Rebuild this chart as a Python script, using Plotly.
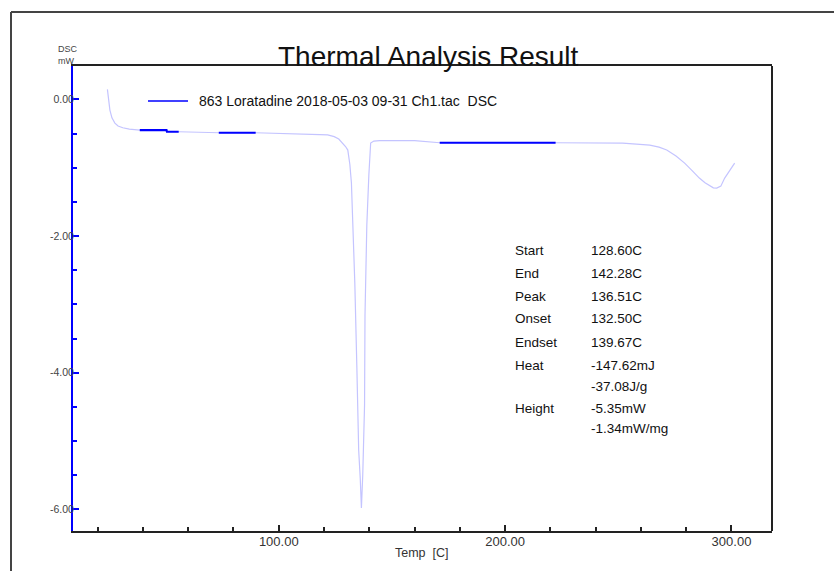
import plotly.graph_objects as go

# DSC trace of loratadine, temperature in C and heat flow in mW
temp_c = [24.3, 24.8, 25.4, 26.3, 27.6, 29.0, 31.1, 34.0, 38.6, 50.4, 50.6, 55.8,
          62.0, 73.3, 73.5, 89.8, 100.0, 110.0, 118.1, 121.6, 122.5, 124.5, 126.5,
          128.3, 129.5, 130.5, 131.4, 132.1, 132.7, 133.6, 134.5, 135.3, 136.0,
          136.51, 137.1, 137.9, 138.1, 138.9, 139.8, 140.6, 142.0, 144.6, 160.0,
          165.0, 171.1, 222.3, 241.8, 251.9, 258.0, 263.9, 268.0, 271.4, 275.5,
          279.3, 282.5, 285.8, 288.3, 290.4, 292.0, 293.5, 295.3, 297.0, 299.2, 301.4]
dsc_mw = [0.146, 0.02, -0.157, -0.27, -0.347, -0.39, -0.416, -0.436, -0.449, -0.449,
          -0.474, -0.474, -0.48, -0.48, -0.489, -0.489, -0.495, -0.50, -0.515, -0.52,
          -0.53, -0.545, -0.58, -0.64, -0.69, -0.742, -0.95, -1.225, -1.767, -2.69,
          -3.92, -5.13, -5.55, -5.98, -5.50, -4.476, -3.158, -1.84, -1.108, -0.64,
          -0.61, -0.605, -0.605, -0.62, -0.635, -0.635, -0.635, -0.64, -0.655, -0.669,
          -0.70, -0.742, -0.83, -0.933, -1.04, -1.152, -1.22, -1.269, -1.295, -1.299,
          -1.27, -1.152, -1.04, -0.933]

# baseline ranges picked for analysis (drawn in blue)
range1_temp = [38.6, 50.4, 50.6, 55.8]
range1_mw = [-0.449, -0.449, -0.474, -0.474]
range2_temp = [73.5, 89.8]
range2_mw = [-0.489, -0.489]
range3_temp = [171.1, 222.3]
range3_mw = [-0.635, -0.635]

legend_label = "863 Loratadine 2018-05-03 09-31 Ch1.tac  DSC"

# peak analysis results
result_names = ["Start", "End", "Peak", "Onset", "Endset", "Heat", "", "Height", ""]
result_values = ["128.60C", "142.28C", "136.51C", "132.50C", "139.67C",
                 "-147.62mJ", "-37.08J/g", "-5.35mW", "-1.34mW/mg"]

x_major = [100, 200, 300]
x_major_text = ["100.00", "200.00", "300.00"]
x_minor = [20, 40, 60, 80, 120, 140, 160, 180, 220, 240, 260, 280]
y_major = [0, -2, -4, -6]
y_major_text = ["0.00", "-2.00", "-4.00", "-6.00"]
y_minor = [-0.5, -1.0, -1.5, -2.5, -3.0, -3.5, -4.5, -5.0, -5.5]

FONT = "Liberation Sans, Arial, sans-serif"
BLUE = "#0000ff"
LAVENDER = "#c4c4ff"

W, H = 834, 571
L, R, T, B = 73, 62, 66, 40
PW, PH = W - L - R, H - T - B


def px(x):
    return (x - L) / PW


def py(y):
    return (H - B - y) / PH


fig = go.Figure()
fig.add_trace(go.Scatter(x=temp_c, y=dsc_mw, mode="lines",
                         line=dict(color=LAVENDER, width=1.2), showlegend=False,
                         hoverinfo="skip"))
for xs, ys in [(range1_temp, range1_mw), (range2_temp, range2_mw), (range3_temp, range3_mw)]:
    fig.add_trace(go.Scatter(x=xs, y=ys, mode="lines",
                             line=dict(color=BLUE, width=2.2), showlegend=False))

shapes = [
    # right edge of the plot box
    dict(type="line", xref="paper", yref="paper", x0=1, x1=1, y0=0, y1=1,
         line=dict(color="#222", width=2)),
    # outer page frame
    dict(type="line", xref="paper", yref="paper", x0=px(11), x1=px(11), y0=py(12), y1=py(600),
         line=dict(color="#444", width=2)),
    dict(type="line", xref="paper", yref="paper", x0=px(11), x1=px(900), y0=py(12), y1=py(12),
         line=dict(color="#444", width=2)),
    # legend sample line
    dict(type="line", xref="paper", yref="paper", x0=px(148), x1=px(188), y0=py(101), y1=py(101),
         line=dict(color=BLUE, width=1.6)),
]

annotations = [
    dict(text="Thermal Analysis Result", x=px(428.5), y=py(56), xref="paper", yref="paper",
         showarrow=False, xanchor="center", yanchor="middle",
         font=dict(family=FONT, size=28, color="#111")),
    dict(text="DSC", x=px(55.5), y=py(49), xref="paper", yref="paper", showarrow=False,
         xanchor="left", yanchor="middle", font=dict(family=FONT, size=9, color="#444")),
    dict(text="mW", x=px(55.5), y=py(61.5), xref="paper", yref="paper", showarrow=False,
         xanchor="left", yanchor="middle", font=dict(family=FONT, size=9, color="#444")),
    dict(text="Temp  [C]", x=px(422), y=py(553), xref="paper", yref="paper", showarrow=False,
         xanchor="center", yanchor="middle", font=dict(family=FONT, size=12.5, color="#333")),
    dict(text=legend_label, x=px(197), y=py(101), xref="paper", yref="paper", showarrow=False,
         xanchor="left", yanchor="middle", font=dict(family=FONT, size=14, color="#111")),
]

row_y = [250, 273.3, 296.3, 318.7, 342, 365.3, 386.7, 408, 428]
for name, val, ry in zip(result_names, result_values, row_y):
    if name:
        annotations.append(dict(text=name, x=px(513), y=py(ry), xref="paper", yref="paper",
                                showarrow=False, xanchor="left", yanchor="middle",
                                font=dict(family=FONT, size=13.5, color="#111")))
    annotations.append(dict(text=val, x=px(589), y=py(ry), xref="paper", yref="paper",
                            showarrow=False, xanchor="left", yanchor="middle",
                            font=dict(family=FONT, size=13.5, color="#111")))

fig.update_layout(
    width=W, height=H,
    margin=dict(l=L, r=R, t=T, b=B, pad=0),
    paper_bgcolor="white", plot_bgcolor="white",
    showlegend=False,
    shapes=shapes, annotations=annotations,
    xaxis=dict(range=[9.1, 317.9], showgrid=False, zeroline=False,
               showline=True, linecolor="#222", linewidth=2, mirror=True,
               tickmode="array", tickvals=x_major, ticktext=x_major_text,
               ticks="inside", ticklen=6, tickwidth=1.5, tickcolor="#222",
               ticklabelstandoff=-3,
               tickfont=dict(family=FONT, size=13, color="#333"),
               minor=dict(tickmode="array", tickvals=x_minor, ticks="inside",
                          ticklen=4, tickwidth=1.5, tickcolor="#222", showgrid=False)),
    yaxis=dict(range=[-6.316, 0.488], showgrid=False, zeroline=False,
               showline=True, linecolor=BLUE, linewidth=2,
               tickmode="array", tickvals=y_major, ticktext=y_major_text,
               ticks="inside", ticklen=6, tickwidth=1.5, tickcolor=BLUE,
               ticklabelstandoff=-5,
               tickfont=dict(family=FONT, size=10.5, color="#444"),
               minor=dict(tickmode="array", tickvals=y_minor, ticks="inside",
                          ticklen=4, tickwidth=1.5, tickcolor=BLUE, showgrid=False)),
)

fig.write_html("out.html")
